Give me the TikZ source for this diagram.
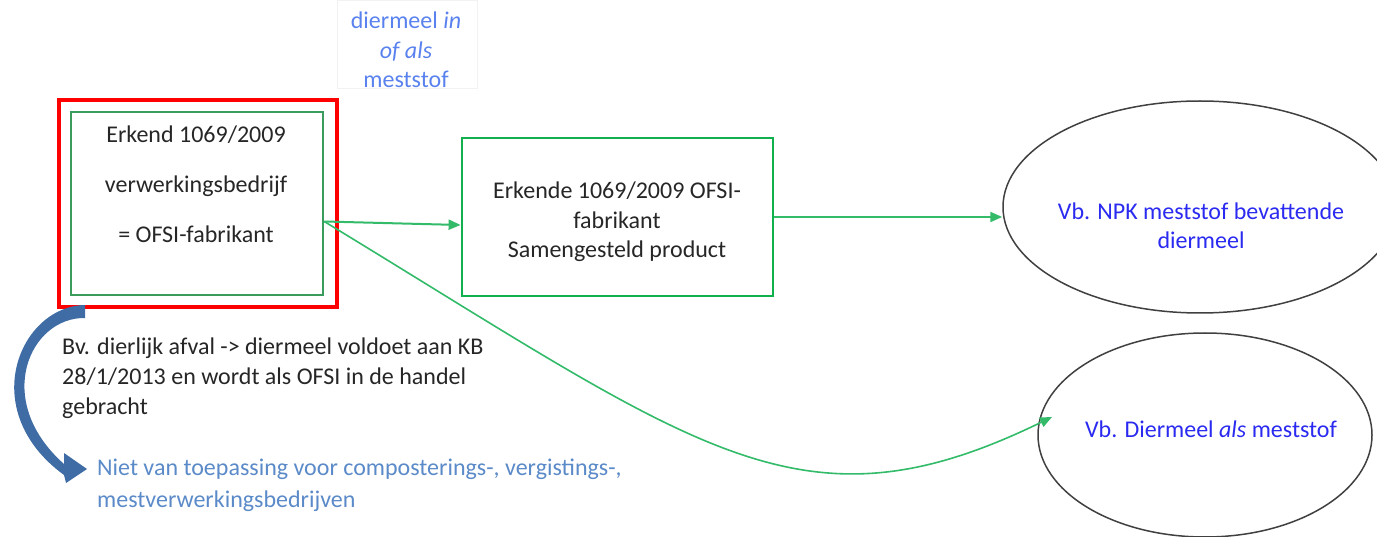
\documentclass[tikz,border=0pt]{standalone}
\usepackage{fontspec}
\setmainfont{Carlito}
\usetikzlibrary{arrows.meta,shapes.geometric,calc}
\definecolor{boxred}{HTML}{FF0000}
\definecolor{darkgr}{HTML}{3A9C5C}
\definecolor{brightgr}{HTML}{10B04C}
\definecolor{linegr}{HTML}{33BB6A}
\definecolor{ellblue}{HTML}{2A2AF0}
\definecolor{topblue}{HTML}{5A82EE}
\definecolor{steelblue}{HTML}{5B8AC8}
\definecolor{arrowblue}{HTML}{3F6CA5}
\definecolor{txt}{HTML}{262626}
\begin{document}
\begin{tikzpicture}[x=1pt,y=-1pt,
  basefont/.style={font=\fontsize{24}{29.5}\selectfont},
  plain/.style={basefont,text=txt,inner sep=0pt},
  garrow/.style={draw=linegr,line width=2pt,-{Triangle[length=12pt,width=10pt]}},
  ell/.style={draw=black!75,line width=1.5pt,ellipse,inner sep=0pt},
]
\useasboundingbox (0,0) rectangle (1377,537);

% faint text box and top blue text
\node[draw=black!5,line width=0.8pt,minimum width=140,minimum height=88,inner sep=0pt] (topbox) at (407,44) {};
\node[basefont,text=topblue,align=center,inner sep=0pt] (toptext) at (406,50)
  {diermeel \textit{in}\\ \textit{of als}\\ meststof};

% left boxes
\node[draw=boxred,line width=4.5pt,minimum width=278,minimum height=207,inner sep=0pt] (red) at (198,203.5) {};
\node[draw=darkgr,line width=2.5pt,minimum width=252,minimum height=183,inner sep=0pt] (inner) at (197,203.5) {};
\node[plain,align=center,font=\fontsize{24}{50}\selectfont] (innertext) at (196,184)
  {Erkend 1069/2009\\ verwerkingsbedrijf\\ = OFSI-fabrikant};

% middle box
\node[draw=brightgr,line width=2.8pt,minimum width=311,minimum height=158,inner sep=0pt] (mid) at (617.5,217) {};
\node[plain,align=center] (midtext) at (617,222)
  {Erkende 1069/2009 OFSI-\\ fabrikant\\ Samengesteld product};

% ellipses
\node[ell,minimum width=394,minimum height=212] (e1) at (1200,207) {};
\node[basefont,text=ellblue,align=center,inner sep=0pt] (e1text) at (1201,226)
  {Vb. NPK meststof bevattende\\ diermeel};
\node[ell,minimum width=334,minimum height=204] (e2) at (1205,435) {};
\node[basefont,text=ellblue,inner sep=0pt] (e2text) at (1211,429)
  {Vb. Diermeel \textit{als} meststof};

% connectors
\draw[garrow] ([yshift=-18pt]inner.east) -- ([yshift=-8pt]mid.west);
\draw[garrow] (mid.east) -- (e1.west |- mid.east);
\coordinate (e2in) at ([shift={(-153pt,18pt)}]e2.center);
\draw[garrow,line width=1.6pt] ([yshift=-18pt]inner.east) .. controls (700,450) and (800,540) .. (e2in);

% lower left texts
\node[plain,align=left,anchor=west,font=\fontsize{24}{30}\selectfont] (note) at (62,378)
  {Bv. dierlijk afval -> diermeel voldoet aan KB\\ 28/1/2013 en wordt als OFSI in de handel\\ gebracht};
\node[plain,text=steelblue,align=left,anchor=west,font=\fontsize{24}{32}\selectfont] (niet) at (97,485)
  {Niet van toepassing voor composterings-, vergistings-,\\ mestverwerkingsbedrijven};

% blue curved block arrow
\fill[arrowblue] (85,305) .. controls (20,306) and (-25,410) .. (64,475)
  -- (66,483) -- (87,469) -- (64,453) -- (64,464)
  .. controls (-8,400) and (30,317) .. (85,318) -- cycle;
\end{tikzpicture}
\end{document}
